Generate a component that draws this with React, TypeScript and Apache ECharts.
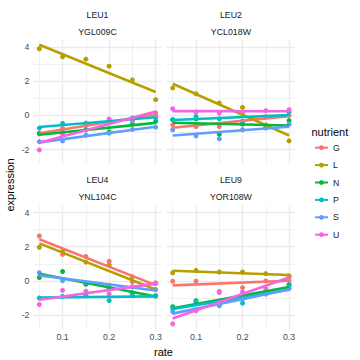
import React, { useEffect, useRef } from "react";
import * as echarts from "echarts";

const rates = [0.05, 0.1, 0.15, 0.2, 0.25, 0.3];
const nutrients = ["G", "L", "N", "P", "S", "U"];
const colors = ["#F8766D", "#B79F00", "#00BA38", "#00BFC4", "#619CFF", "#F564E3"];
const stripTop = ["LEU1", "LEU2", "LEU4", "LEU9"];
const stripBottom = ["YGL009C", "YCL018W", "YNL104C", "YOR108W"];
const xMajor = [0.1, 0.2, 0.3];
const xMinor = [0.05, 0.15, 0.25];
const yMajor = [-2, 0, 2, 4];
const yMinor = [-1, 1, 3];

// expression values per nutrient (G, L, N, P, S, U) at each rate
const leu1 = [
  [-1.08, -0.74, -0.6, -0.45, -0.25, 0.14],
  [3.9, 3.43, 3.29, 2.88, 2.08, 0.92],
  [-1.05, -1.0, -0.85, -0.96, -0.5, -0.35],
  [-0.74, -0.47, -0.45, -0.4, -0.15, -0.15],
  [-1.53, -1.49, -1.16, -1.04, -0.82, -0.68],
  [-2.02, -1.1, -0.47, -0.21, -0.3, 0.0],
];
const leu2 = [
  [-0.55, -0.65, -0.65, -0.35, -0.08, 0.0],
  [1.61, 1.27, 0.73, 0.47, -0.55, -1.49],
  [-0.25, -0.2, -1.1, -0.5, -0.7, -0.3],
  [-0.25, -0.06, -0.2, -0.35, -0.1, 0.2],
  [-0.84, -1.2, -1.37, -0.84, -0.74, -0.51],
  [0.39, 0.2, 0.14, 0.15, 0.28, 0.33],
];
const leu4 = [
  [2.63, 1.55, 1.43, 1.15, -0.06, -0.11],
  [1.97, 1.74, 1.1, 0.92, 0.24, -0.87],
  [0.2, 0.55, -0.2, -0.45, -0.7, -0.87],
  [-1.0, -0.9, -0.85, -1.15, -0.85, -0.88],
  [0.48, 0.02, -0.1, -0.25, -0.35, -0.5],
  [-1.38, -0.55, -0.6, -0.75, -0.35, -0.15],
];
const leu9 = [
  [-0.02, -0.02, -0.62, -0.39, 0.0, 0.3],
  [0.48, 0.62, 0.52, 0.52, 0.43, 0.25],
  [-1.51, -1.16, -1.41, -1.0, -0.6, -0.2],
  [-1.6, -1.22, -1.3, -1.3, -0.75, -0.3],
  [-1.8, -1.7, -1.45, -1.05, -0.77, -0.45],
  [-2.51, -1.75, -0.68, -0.64, -0.45, 0.05],
];
const panelData = [leu1, leu2, leu4, leu9];

const FONT = '"Liberation Sans", Arial, Helvetica, sans-serif';
const gridLeft = [33.5, 166.9, 33.5, 166.9];
const gridTop = [39.7, 39.7, 205.2, 205.2];
const GW = 128;
const GH = 124.1;
const XMIN = 0.0375;
const XMAX = 0.3125;
const YMIN = -2.83;
const YMAX = 4.43;

function fitLine(ys: number[]) {
  const n = rates.length;
  const mx = rates.reduce((a, b) => a + b, 0) / n;
  const my = ys.reduce((a, b) => a + b, 0) / n;
  let sxy = 0;
  let sxx = 0;
  rates.forEach((x, i) => {
    sxy += (x - mx) * (ys[i] - my);
    sxx += (x - mx) * (x - mx);
  });
  const b = sxy / sxx;
  const a = my - b * mx;
  return [
    [rates[0], a + b * rates[0]],
    [rates[n - 1], a + b * rates[n - 1]],
  ];
}

export default function App() {
  const ref = useRef<HTMLDivElement>(null);
  useEffect(() => {
    if (!ref.current) return;
    const chart = echarts.init(ref.current, undefined, { renderer: "svg" });

    const grids = panelData.map((_, p) => ({
      left: gridLeft[p],
      top: gridTop[p],
      width: GW,
      height: GH,
      containLabel: false,
    }));
    const xAxes = panelData.map((_, p) => ({
      type: "value",
      gridIndex: p,
      min: XMIN,
      max: XMAX,
      splitNumber: 2,
      axisLine: { show: false },
      axisTick: { show: false },
      splitLine: { show: false },
      axisLabel: {
        show: p >= 2,
        margin: 3,
        fontSize: 8.8,
        color: "#4D4D4D",
        fontFamily: FONT,
        formatter: (v: number) => {
          const t = xMajor.find((m) => Math.abs(m - v) < 1e-6);
          return t === undefined ? "" : String(t);
        },
      },
    }));
    const yAxes = panelData.map((_, p) => ({
      type: "value",
      gridIndex: p,
      min: YMIN,
      max: YMAX,
      splitNumber: 3,
      axisLine: { show: false },
      axisTick: { show: false },
      splitLine: { show: false },
      axisLabel: {
        show: p % 2 === 0,
        margin: 4,
        fontSize: 8.8,
        color: "#4D4D4D",
        fontFamily: FONT,
        formatter: (v: number) => {
          const t = yMajor.find((m) => Math.abs(m - v) < 1e-6);
          return t === undefined ? "" : String(t);
        },
      },
    }));

    const series: any[] = [];
    panelData.forEach((rows, p) => {
      // background grid lines
      series.push({
        type: "line",
        name: "",
        xAxisIndex: p,
        yAxisIndex: p,
        data: [],
        z: 0,
        silent: true,
        markLine: {
          silent: true,
          z: 0,
          symbol: ["none", "none"],
          label: { show: false },
          emphasis: { disabled: true },
          animation: false,
          data: [
            ...xMinor.map((v) => ({ xAxis: v, lineStyle: { color: "#EBEBEB", width: 0.7, type: "solid" } })),
            ...yMinor.map((v) => ({ yAxis: v, lineStyle: { color: "#EBEBEB", width: 0.7, type: "solid" } })),
            ...xMajor.map((v) => ({ xAxis: v, lineStyle: { color: "#EBEBEB", width: 1.4, type: "solid" } })),
            ...yMajor.map((v) => ({ yAxis: v, lineStyle: { color: "#EBEBEB", width: 1.4, type: "solid" } })),
          ],
        },
      });
    });
    panelData.forEach((rows, p) => {
      rows.forEach((ys, i) => {
        series.push({
          type: "line",
          name: nutrients[i],
          xAxisIndex: p,
          yAxisIndex: p,
          data: fitLine(ys),
          symbol: "circle",
          showSymbol: false,
          z: 3,
          silent: true,
          lineStyle: { color: colors[i], width: 2.6 },
          itemStyle: { color: colors[i] },
        });
      });
    });
    panelData.forEach((rows, p) => {
      rows.forEach((ys, i) => {
        series.push({
          type: "scatter",
          name: nutrients[i],
          xAxisIndex: p,
          yAxisIndex: p,
          data: rates.map((r, k) => [r, ys[k]]),
          symbol: "circle",
          symbolSize: 5,
          z: 2,
          clip: false,
          silent: true,
          itemStyle: { color: colors[i], opacity: 1 },
        });
      });
    });

    const graphics: any[] = [];
    panelData.forEach((_, p) => {
      const cx = gridLeft[p] + GW / 2;
      const base = p < 2 ? 0 : 165.3;
      graphics.push({
        type: "text",
        x: cx,
        y: base + 15,
        style: { text: stripTop[p], font: `8.8px ${FONT}`, fill: "#1A1A1A", textAlign: "center", textVerticalAlign: "middle" },
      });
      graphics.push({
        type: "text",
        x: cx,
        y: base + 31.6,
        style: { text: stripBottom[p], font: `8.8px ${FONT}`, fill: "#1A1A1A", textAlign: "center", textVerticalAlign: "middle" },
      });
    });
    graphics.push({
      type: "text",
      x: 163.5,
      y: 351.5,
      style: { text: "rate", font: `11px ${FONT}`, fill: "#000000", textAlign: "center", textVerticalAlign: "middle" },
    });
    graphics.push({
      type: "text",
      x: 10,
      y: 185,
      rotation: Math.PI / 2,
      style: { text: "expression", font: `11px ${FONT}`, fill: "#000000", textAlign: "center", textVerticalAlign: "middle" },
    });
    graphics.push({
      type: "text",
      x: 311.5,
      y: 131.7,
      style: { text: "nutrient", font: `11px ${FONT}`, fill: "#000000", textAlign: "left", textVerticalAlign: "middle" },
    });

    chart.setOption({
      animation: false,
      backgroundColor: "#FFFFFF",
      grid: grids,
      xAxis: xAxes,
      yAxis: yAxes,
      legend: {
        data: nutrients,
        orient: "vertical",
        left: 314,
        top: 142,
        itemWidth: 13,
        itemHeight: 6,
        itemGap: 6,
        selectedMode: false,
        padding: 0,
        textStyle: { fontSize: 8.8, color: "#1A1A1A", fontFamily: FONT, lineHeight: 11.4 },
      },
      graphic: graphics,
      series,
    });
    return () => chart.dispose();
  }, []);
  return (
    <div
      ref={ref}
      style={{ position: "fixed", left: 0, top: 0, width: 360, height: 360 }}
    />
  );
}
